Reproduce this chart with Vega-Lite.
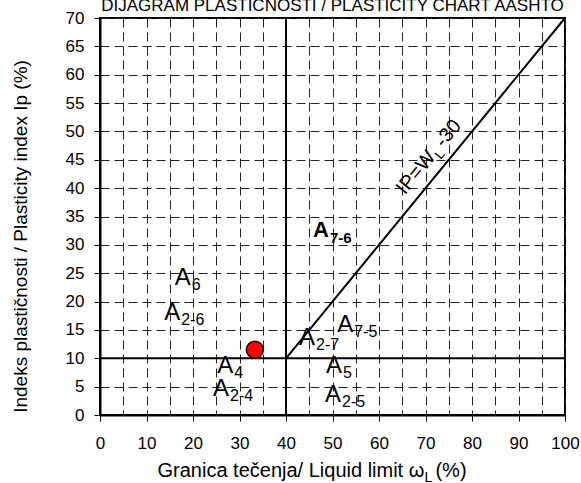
{
  "$schema": "https://vega.github.io/schema/vega-lite/v6.json",
  "width": 465,
  "height": 397,
  "autosize": "none",
  "padding": {"left": 100, "top": 18, "right": 16, "bottom": 68},
  "background": "white",
  "title": {
    "text": "DIJAGRAM PLASTIČNOSTI / PLASTICITY CHART AASHTO",
    "frame": "group",
    "anchor": "middle",
    "offset": 0,
    "dy": 19,
    "baseline": "alphabetic",
    "fontSize": 17,
    "fontWeight": "normal",
    "font": "Liberation Sans",
    "color": "black"
  },
  "config": {
    "font": "Liberation Sans",
    "view": {"stroke": "black", "strokeWidth": 2},
    "text": {"font": "Liberation Sans", "color": "black"}
  },
  "datasets": {
    "lines": [
      {"x": 40, "y": 0, "x2": 40, "y2": 70},
      {"x": 0, "y": 10, "x2": 100, "y2": 10},
      {"x": 40, "y": 10, "x2": 100, "y2": 70}
    ],
    "sample": [{"x": 33.3, "y": 11.5}],
    "zones": [
      {"x": 16.1, "y": 23.0, "main": "A", "sub": "6"},
      {"x": 13.8, "y": 16.8, "main": "A", "sub": "2-6"},
      {"x": 51.0, "y": 14.7, "main": "A", "sub": "7-5"},
      {"x": 42.8, "y": 12.4, "main": "A", "sub": "2-7"},
      {"x": 25.2, "y": 7.4, "main": "A", "sub": "4"},
      {"x": 24.3, "y": 3.4, "main": "A", "sub": "2-4"},
      {"x": 48.6, "y": 7.4, "main": "A", "sub": "5"},
      {"x": 48.4, "y": 2.3, "main": "A", "sub": "2-5"}
    ],
    "zonesBold": [{"x": 45.8, "y": 31.4, "main": "A", "sub": "7-6"}],
    "eq": [{"x": 65.6, "y": 38.7, "main": "IP=W", "sub": "L", "tail": "-30"}],
    "xsub": [{"x": 69.8, "y": -11.8, "t": "L"}]
  },
  "encoding": {
    "x": {
      "field": "x",
      "type": "quantitative",
      "scale": {"domain": [0, 100], "nice": false, "zero": false},
      "axis": {
        "values": [0, 5, 10, 15, 20, 25, 30, 35, 40, 45, 50, 55, 60, 65, 70, 75, 80, 85, 90, 95, 100],
        "labelExpr": "datum.value % 10 === 0 ? datum.label : ''",
        "labelOverlap": false,
        "labelFlush": false,
        "tickOpacity": {"condition": {"test": "datum.value % 10 !== 0", "value": 0}, "value": 1},
        "grid": true,
        "gridDash": [9, 5],
        "gridColor": "#222222",
        "gridWidth": 1,
        "tickSize": 6,
        "tickColor": "black",
        "tickWidth": 1,
        "domainColor": "black",
        "domainWidth": 2,
        "labelFontSize": 17,
        "labelColor": "black",
        "labelPadding": 14,
        "title": "Granica tečenja/ Liquid limit ω\u00a0\u00a0(%)",
        "titleFontSize": 20,
        "titleFontWeight": "normal",
        "titleColor": "black",
        "titleAlign": "left",
        "titleBaseline": "alphabetic",
        "titleX": 57,
        "titleY": 61
      }
    },
    "y": {
      "field": "y",
      "type": "quantitative",
      "scale": {"domain": [0, 70], "nice": false, "zero": false},
      "axis": {
        "values": [0, 5, 10, 15, 20, 25, 30, 35, 40, 45, 50, 55, 60, 65, 70],
        "labelOverlap": false,
        "labelFlush": false,
        "grid": true,
        "gridDash": [9, 5],
        "gridColor": "#222222",
        "gridWidth": 1,
        "tickSize": 6,
        "tickColor": "black",
        "tickWidth": 1,
        "domainColor": "black",
        "domainWidth": 2,
        "labelFontSize": 17,
        "labelColor": "black",
        "labelPadding": 10,
        "title": "Indeks plastičnosti / Plasticity index Ip (%)",
        "titleFontSize": 19,
        "titleFontWeight": "normal",
        "titleColor": "black",
        "titleAngle": 270,
        "titleAlign": "center",
        "titleBaseline": "alphabetic",
        "titleX": -74,
        "titleY": 218
      }
    }
  },
  "layer": [
    {
      "data": {"name": "lines"},
      "mark": {"type": "rule", "color": "black", "strokeWidth": 2},
      "encoding": {"x2": {"field": "x2"}, "y2": {"field": "y2"}}
    },
    {
      "data": {"name": "zones"},
      "mark": {"type": "text", "align": "left", "baseline": "alphabetic", "fontSize": 24},
      "encoding": {"text": {"field": "main"}}
    },
    {
      "data": {"name": "zones"},
      "mark": {"type": "text", "align": "left", "baseline": "alphabetic", "fontSize": 16, "dx": 17, "dy": 5},
      "encoding": {"text": {"field": "sub"}}
    },
    {
      "data": {"name": "zonesBold"},
      "mark": {"type": "text", "align": "left", "baseline": "alphabetic", "fontSize": 22, "fontWeight": "bold"},
      "encoding": {"text": {"field": "main"}}
    },
    {
      "data": {"name": "zonesBold"},
      "mark": {"type": "text", "align": "left", "baseline": "alphabetic", "fontSize": 15, "fontWeight": "bold", "dx": 17, "dy": 6},
      "encoding": {"text": {"field": "sub"}}
    },
    {
      "data": {"name": "eq"},
      "mark": {"type": "text", "align": "left", "baseline": "alphabetic", "fontSize": 20, "angle": 309.4},
      "encoding": {"text": {"field": "main"}}
    },
    {
      "data": {"name": "eq"},
      "mark": {"type": "text", "align": "left", "baseline": "alphabetic", "fontSize": 13, "angle": 309.4, "dx": 50, "dy": 5},
      "encoding": {"text": {"field": "sub"}}
    },
    {
      "data": {"name": "eq"},
      "mark": {"type": "text", "align": "left", "baseline": "alphabetic", "fontSize": 20, "angle": 309.4, "dx": 61},
      "encoding": {"text": {"field": "tail"}}
    },
    {
      "data": {"name": "xsub"},
      "mark": {"type": "text", "align": "left", "baseline": "alphabetic", "fontSize": 14},
      "encoding": {"text": {"field": "t"}}
    },
    {
      "data": {"name": "sample"},
      "mark": {"type": "circle", "size": 290, "fill": "#ff0000", "stroke": "black", "strokeWidth": 1.5, "opacity": 1}
    }
  ]
}
